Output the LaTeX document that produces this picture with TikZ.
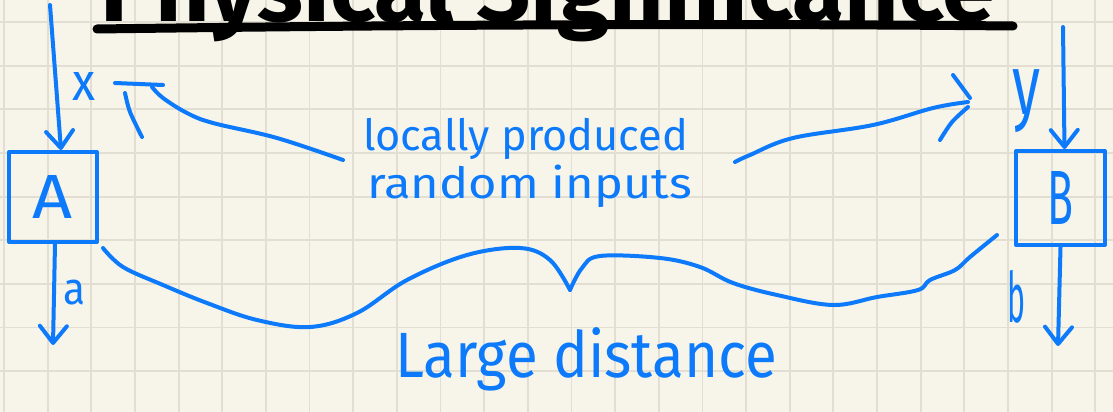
\documentclass[tikz,border=0pt]{standalone}
\usepackage{fontspec}
\setmainfont{Fira Sans}
\usetikzlibrary{arrows.meta,calc}
\definecolor{ink}{RGB}{12,122,250}
\definecolor{paper}{RGB}{247,245,233}
\definecolor{gridc}{RGB}{226,223,210}
\begin{document}
\begin{tikzpicture}[x=1pt,y=-1pt,
  pen/.style={draw=ink,line width=4pt,line cap=round,line join=round},
  head/.style={pen,-{Straight Barb[length=17pt,width=27pt,line cap=round,line join=round]}},
  lbl/.style={inner sep=0pt,outer sep=0pt,text=ink,anchor=north west},
  txt/.style={inner sep=0pt,outer sep=0pt,text=ink,anchor=base west},
  box/.style={pen,rectangle,inner sep=0pt,text=ink},
  gridline/.style={draw=gridc,line width=1.8pt},
]
\useasboundingbox (0,0) rectangle (1113,412);
\clip (0,0) rectangle (1113,412);
\fill[paper] (0,0) rectangle (1113,412);
\foreach \i in {0,...,25} \draw[gridline] ({4+43.65*\i},0) -- ({4+43.65*\i},412);
\foreach \j in {0,...,8} \draw[gridline] (0,{22+43.65*\j}) -- (1113,{22+43.65*\j});

% title (cut off at the top, as in the reference)
\node[anchor=base west,inner sep=0pt] (title) at (100,22)
  {\resizebox{895pt}{\height}{\fontsize{92}{92}\selectfont\bfseries Physical Significance}};
\draw[line width=9pt,line cap=round] (97,29) .. controls (400,25) and (700,23) .. (1013,26);

% boxes
\node[box,minimum width=88pt,minimum height=90pt] (A) at (53,197) {\resizebox{40pt}{43pt}{A}};
\node[box,minimum width=89pt,minimum height=94pt] (B) at (1060.5,198) {\resizebox{26pt}{53pt}{B}};

% inputs / outputs
\coordinate (xs) at (50,5);
\coordinate (ys) at (1063,27);
\coordinate (ae) at (53,345);
\coordinate (be) at (1058,346);
\draw[head] (xs) -- ([xshift=8pt]A.north);
\draw[head] (ys) -- ([xshift=4pt]B.north);
\draw[head] ([xshift=2pt]A.south) -- (ae);
\draw[head] (B.south) -- (be);

\node[lbl] (xl) at (72,72) {\resizebox*{23pt}{28pt}{x}};
\node[lbl] (yl) at (1012,70) {\resizebox*{28pt}{63pt}{y}};
\node[lbl] (al) at (63,280) {\resizebox*{22pt}{25pt}{a}};
\node[lbl] (bl) at (1007,270) {\resizebox*{18pt}{53pt}{b}};

% texts
\node[txt] (t1) at (363,150) {\resizebox{325pt}{\height}{\fontsize{43}{43}\selectfont locally produced}};
\node[txt] (t2) at (367,198) {\resizebox{325pt}{\height}{\fontsize{43}{43}\selectfont random inputs}};
\node[txt] (t3) at (395,377) {\resizebox{382pt}{\height}{\fontsize{64}{64}\selectfont Large distance}};

% curved arrows from the text to x and y
\coordinate (xt) at (115,83);
\coordinate (yt) at (970,98);
\draw[pen] plot[smooth,tension=0.6] coordinates {(343,160) (277,138) (213,123) (187,113) (163,98) (152,87)};
\draw[pen] (163,85) -- (xt);
\draw[pen] plot[smooth] coordinates {(125,93) (130,112) (142,137)};
\draw[pen] plot[smooth,tension=0.6] coordinates {(735,162) (750,155) (793,138) (873,125) (933,108) (968,102)};
\draw[pen] (953,75) -- (yt);
\draw[pen] plot[smooth] coordinates {(968,107) (952,122) (940,140)};

% brace
\draw[pen] plot[smooth,tension=0.6] coordinates {(103,248) (123,267) (163,285) (207,303) (257,320) (310,327) (357,313) (407,280) (467,255) (520,248) (550,260) (570,290)};
\draw[pen] plot[smooth,tension=0.6] coordinates {(570,290) (582,268) (600,256) (660,258) (700,267) (733,283) (777,295) (833,305) (877,297) (918,290) (930,280) (955,270) (970,257) (997,235)};
\end{tikzpicture}
\end{document}
